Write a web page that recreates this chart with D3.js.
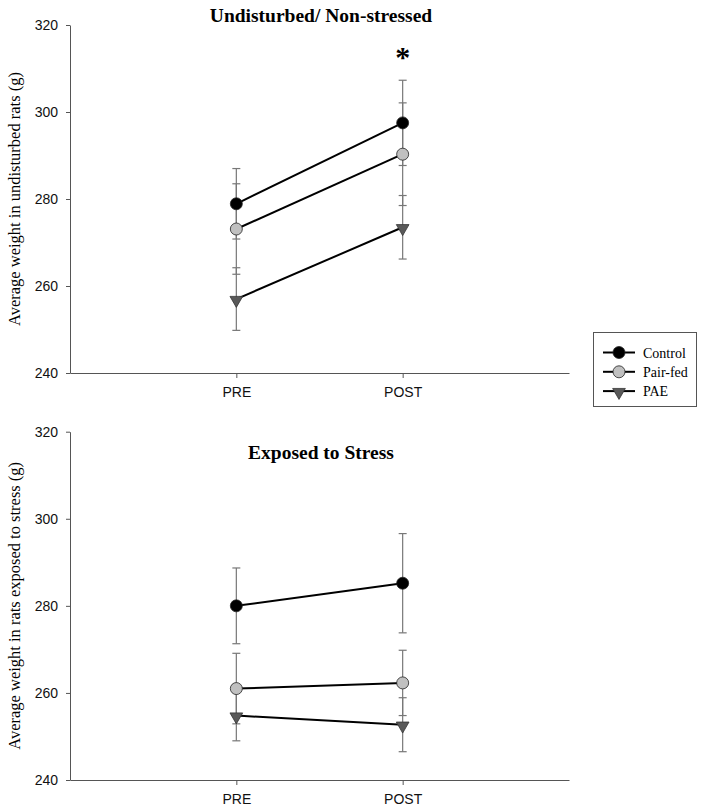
<!DOCTYPE html>
<html><head><meta charset="utf-8">
<script src="https://cdn.jsdelivr.net/npm/d3@7"></script>
<style>body{margin:0;background:#fff}svg{display:block}</style>
</head><body>
<script>
const timepoints = ["PRE", "POST"];
const seriesNames = ["Control", "Pair-fed", "PAE"];
const yTicks = [240, 260, 280, 300, 320];
// Undisturbed / Non-stressed
const topControl = [278.9, 297.5];
const topControlErr = [8.1, 9.8];
const topPairFed = [273.1, 290.3];
const topPairFedErr = [10.4, 11.8];
const topPAE = [257.0, 273.5];
const topPAEErr = [7.2, 7.3];
// Exposed to stress
const botControl = [280.0, 285.2];
const botControlErr = [8.7, 11.4];
const botPairFed = [261.0, 262.3];
const botPairFedErr = [8.1, 7.5];
const botPAE = [254.8, 252.7];
const botPAEErr = [5.8, 6.2];

const W = 708, H = 811;
const svg = d3.select("body").append("svg").attr("width", W).attr("height", H);

const styles = {
  "Control": {fill: "#000000", shape: "circle"},
  "Pair-fed": {fill: "#c0c0c0", shape: "circle"},
  "PAE": {fill: "#595959", shape: "tri"}
};

function marker(g, shape, fill, cx, cy) {
  if (shape === "circle") {
    g.append("circle").attr("cx", cx).attr("cy", cy).attr("r", 6)
      .attr("fill", fill).attr("stroke", "#222").attr("stroke-width", 0.8);
  } else {
    g.append("path").attr("d", d3.symbol(d3.symbolTriangle, 70)())
      .attr("transform", `translate(${cx},${cy+1}) rotate(180)`)
      .attr("fill", fill).attr("stroke", "#333").attr("stroke-width", 0.8);
  }
}

function panel(top, bottom, title, titleY, yLabel, series, star) {
  const x = d3.scaleLinear().domain([-1, 2]).range([70, 569]);
  const y = d3.scaleLinear().domain([240, 320]).range([bottom, top]);
  const g = svg.append("g");
  const yAxis = g.append("g").attr("transform", "translate(70,0)")
    .call(d3.axisLeft(y).tickValues(yTicks).tickSize(4).tickPadding(8).tickSizeOuter(0));
  yAxis.select(".domain").attr("stroke", "#555");
  yAxis.selectAll(".tick line").attr("stroke", "#555");
  yAxis.selectAll("text").attr("font-family", "Liberation Sans, Arial").attr("font-size", 14).attr("fill", "#111");
  const xAxis = g.append("g").attr("transform", `translate(0,${bottom})`)
    .call(d3.axisBottom(x).tickValues([0, 1]).tickFormat(i => timepoints[i]).tickSize(5).tickPadding(9).tickSizeOuter(0));
  xAxis.select(".domain").attr("stroke", "#555");
  xAxis.selectAll(".tick line").attr("stroke", "#555");
  xAxis.selectAll("text").attr("font-family", "Liberation Sans, Arial").attr("font-size", 14).attr("fill", "#111");

  g.append("text").attr("x", 321).attr("y", titleY).attr("text-anchor", "middle")
    .attr("font-family", "Liberation Serif, Times New Roman").attr("font-weight", "bold")
    .attr("font-size", 19.5).text(title);
  g.append("text").attr("transform", `translate(20,${(top+bottom)/2}) rotate(-90)`)
    .attr("text-anchor", "middle").attr("font-family", "Liberation Serif, Times New Roman")
    .attr("font-size", 16.5).text(yLabel);

  // error bars
  series.forEach(s => {
    s.vals.forEach((v, i) => {
      const cx = x(i), e = s.err[i];
      g.append("line").attr("x1", cx).attr("x2", cx).attr("y1", y(v - e)).attr("y2", y(v + e))
        .attr("stroke", "#777").attr("stroke-width", 1.2);
      [v - e, v + e].forEach(t => g.append("line").attr("x1", cx - 4).attr("x2", cx + 4)
        .attr("y1", y(t)).attr("y2", y(t)).attr("stroke", "#777").attr("stroke-width", 1.2));
    });
  });
  const line = d3.line().x((d, i) => x(i)).y(d => y(d));
  series.forEach(s => {
    g.append("path").attr("d", line(s.vals)).attr("fill", "none").attr("stroke", "#000").attr("stroke-width", 2);
  });
  series.forEach(s => {
    const st = styles[s.name];
    s.vals.forEach((v, i) => marker(g, st.shape, st.fill, x(i), y(v)));
  });
  if (star) {
    g.append("text").attr("x", x(1)).attr("y", y(star) + 12).attr("text-anchor", "middle")
      .attr("font-family", "Liberation Serif, Times New Roman").attr("font-weight", "bold")
      .attr("font-size", 30).text("*");
  }
}

panel(25, 373, "Undisturbed/ Non-stressed", 22, "Average weight in undisturbed rats (g)", [
  {name: "Control", vals: topControl, err: topControlErr},
  {name: "Pair-fed", vals: topPairFed, err: topPairFedErr},
  {name: "PAE", vals: topPAE, err: topPAEErr}
], 313);

panel(431.7, 780, "Exposed to Stress", 459, "Average weight in rats exposed to stress (g)", [
  {name: "Control", vals: botControl, err: botControlErr},
  {name: "Pair-fed", vals: botPairFed, err: botPairFedErr},
  {name: "PAE", vals: botPAE, err: botPAEErr}
], null);

// legend
const lg = svg.append("g");
lg.append("rect").attr("x", 593.5).attr("y", 332.5).attr("width", 103).attr("height", 74)
  .attr("fill", "#fff").attr("stroke", "#555").attr("stroke-width", 1);
seriesNames.forEach((n, i) => {
  const cy = 352.5 + i * 19.3;
  lg.append("line").attr("x1", 603).attr("x2", 635).attr("y1", cy).attr("y2", cy)
    .attr("stroke", "#000").attr("stroke-width", 2);
  marker(lg, styles[n].shape, styles[n].fill, 619, cy);
  lg.append("text").attr("x", 643).attr("y", cy + 5).attr("font-family", "Liberation Serif, Times New Roman")
    .attr("font-size", 14).text(n);
});
</script>
</body></html>
